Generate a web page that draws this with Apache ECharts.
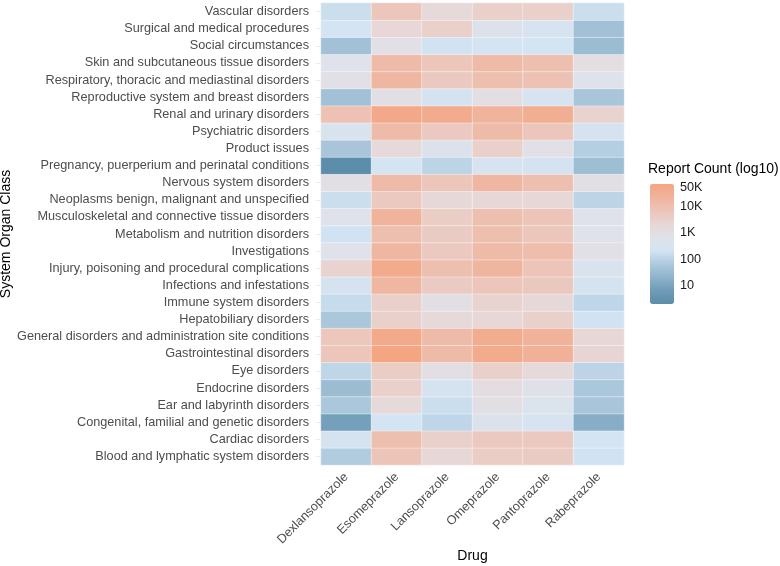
<!DOCTYPE html>
<html>
<head>
<meta charset="utf-8">
<title>Report Count heatmap</title>
<script src="https://cdn.jsdelivr.net/npm/echarts@6/dist/echarts.min.js"></script>
<style>
	html, body { margin: 0; padding: 0; background: #fff; }
	#chart { width: 780px; height: 566px; }
</style>
</head>
<body>
<div id="chart"></div>
<script>
// 药物 (x轴)
const drugs = ['Dexlansoprazole', 'Esomeprazole', 'Lansoprazole', 'Omeprazole', 'Pantoprazole', 'Rabeprazole'];

// 系统器官分类 (y轴, 从下往上)
const socs = [
	'Blood and lymphatic system disorders',
	'Cardiac disorders',
	'Congenital, familial and genetic disorders',
	'Ear and labyrinth disorders',
	'Endocrine disorders',
	'Eye disorders',
	'Gastrointestinal disorders',
	'General disorders and administration site conditions',
	'Hepatobiliary disorders',
	'Immune system disorders',
	'Infections and infestations',
	'Injury, poisoning and procedural complications',
	'Investigations',
	'Metabolism and nutrition disorders',
	'Musculoskeletal and connective tissue disorders',
	'Neoplasms benign, malignant and unspecified',
	'Nervous system disorders',
	'Pregnancy, puerperium and perinatal conditions',
	'Product issues',
	'Psychiatric disorders',
	'Renal and urinary disorders',
	'Reproductive system and breast disorders',
	'Respiratory, thoracic and mediastinal disorders',
	'Skin and subcutaneous tissue disorders',
	'Social circumstances',
	'Surgical and medical procedures',
	'Vascular disorders'
];

// 报告数 (和 socs 顺序一致)
const dexlansoprazole = [70, 280, 8, 55, 32, 110, 6300, 6000, 55, 140, 280, 2500, 630, 200, 630, 160, 900, 2, 50, 400, 8000, 40, 800, 630, 40, 250, 160];
const esomeprazole = [7000, 10000, 220, 1600, 3200, 4000, 68000, 45000, 3200, 3200, 16000, 40000, 16000, 10000, 20000, 5000, 12500, 250, 1600, 12500, 50000, 900, 16000, 12500, 800, 2000, 6300];
const lansoprazole = [2000, 3200, 110, 160, 280, 900, 12500, 12500, 1600, 900, 4500, 10000, 5000, 4500, 4000, 1800, 6300, 100, 500, 5000, 40000, 280, 5000, 6300, 200, 3200, 1600];
const omeprazole = [4000, 5000, 500, 900, 1100, 3200, 40000, 35000, 2000, 2500, 6300, 18000, 12500, 10000, 10000, 2000, 16000, 320, 3200, 12500, 20000, 1000, 10000, 12500, 250, 500, 3200];
const pantoprazole = [4500, 5000, 320, 450, 700, 1600, 25000, 22000, 3200, 1800, 5600, 7000, 11000, 6300, 7000, 2000, 10000, 280, 800, 6300, 32000, 320, 8000, 10000, 220, 320, 3200];
const rabeprazole = [200, 250, 16, 50, 56, 100, 2200, 2000, 200, 110, 280, 400, 800, 630, 630, 100, 900, 35, 80, 280, 2500, 50, 630, 1000, 32, 40, 160];

// 图例刻度
const legendTicks = [10, 100, 1000, 10000, 50000];
const legendTickLabels = ['10', '100', '1K', '10K', '50K'];

const counts = [dexlansoprazole, esomeprazole, lansoprazole, omeprazole, pantoprazole, rabeprazole];

const chart = echarts.init(document.getElementById('chart'), null, { renderer: 'canvas' });

let heatData = [];
let allLog = [];
for (let i = 0; i < drugs.length; i++) {
	for (let j = 0; j < socs.length; j++) {
		let v = Math.log10(counts[i][j]);
		heatData.push([i, j, v]);
		allLog.push(v);
	}
}
const minLog = Math.min.apply(null, allLog);
const maxLog = Math.max.apply(null, allLog);

const font = 'Liberation Sans, Arial, sans-serif';

const option = {
	animation: false,
	backgroundColor: '#ffffff',
	textStyle: { fontFamily: font },
	grid: [
		// 热力图
		{ left: 321, top: 3, width: 303, height: 462, containLabel: false, outerBoundsMode: 'none' },
		// 图例色条的刻度
		{ left: 650, top: 184, width: 24, height: 120, containLabel: false, outerBoundsMode: 'none' }
	],
	xAxis: [
		{
			type: 'category',
			gridIndex: 0,
			data: drugs,
			name: 'Drug',
			nameLocation: 'middle',
			nameGap: 84,
			nameMoveOverlap: false,
			nameTextStyle: { color: '#000', fontSize: 14, fontFamily: font },
			axisLine: { show: false },
			axisTick: { show: false },
			splitLine: { show: false },
			axisLabel: {
				rotate: 45,
				interval: 0,
				margin: 10,
				color: '#4d4d4d',
				fontSize: 12.7,
				fontFamily: font
			}
		},
		{ type: 'value', gridIndex: 1, show: false, min: 0, max: 1 }
	],
	yAxis: [
		{
			type: 'category',
			gridIndex: 0,
			data: socs,
			name: 'System Organ Class',
			nameLocation: 'middle',
			nameGap: 306,
			nameRotate: 90,
			nameTextStyle: { color: '#000', fontSize: 14, fontFamily: font },
			axisLine: { show: false },
			axisTick: { show: true, alignWithLabel: true, length: 5, lineStyle: { color: '#ebebeb' } },
			splitLine: { show: false },
			axisLabel: {
				interval: 0,
				margin: 12,
				color: '#4d4d4d',
				fontSize: 12.7,
				fontFamily: font
			}
		},
		{
			type: 'value',
			gridIndex: 1,
			position: 'right',
			min: minLog,
			max: maxLog,
			axisLine: { show: false },
			splitLine: { show: false },
			axisTick: {
				show: true,
				inside: true,
				length: 5,
				customValues: legendTicks.map(Math.log10),
				lineStyle: { color: 'rgba(255,255,255,0.8)' }
			},
			axisLabel: {
				margin: 6,
				color: '#1a1a1a',
				fontSize: 12.7,
				fontFamily: font,
				customValues: legendTicks.map(Math.log10),
				formatter: function (val) {
					for (let k = 0; k < legendTicks.length; k++) {
						if (Math.abs(Math.log10(legendTicks[k]) - val) < 1e-6) {
							return legendTickLabels[k];
						}
					}
					return '';
				}
			}
		}
	],
	visualMap: {
		type: 'continuous',
		seriesIndex: 0,
		dimension: 2,
		min: minLog,
		max: maxLog,
		calculable: false,
		hoverLink: false,
		orient: 'vertical',
		left: 650,
		top: 184,
		padding: 0,
		itemWidth: 24,
		itemHeight: 120,
		text: null,
		inRange: {
			color: ['#5c8da9', '#6f9bb7', '#8fb3cb', '#afcade', '#d2e4f3', '#dfe2ea', '#e7d6d5', '#ecc5b9', '#f0b39b', '#f4a582']
		}
	},
	graphic: [
		{
			type: 'text',
			left: 648,
			top: 162,
			style: { text: 'Report Count (log10)', fill: '#000', font: '14px ' + font }
		}
	],
	series: [
		{
			type: 'heatmap',
			xAxisIndex: 0,
			yAxisIndex: 0,
			data: heatData,
			itemStyle: { borderColor: 'rgba(255,255,255,0.7)', borderWidth: 0.6 },
			emphasis: { disabled: true }
		}
	]
};

chart.setOption(option);
</script>
</body>
</html>
